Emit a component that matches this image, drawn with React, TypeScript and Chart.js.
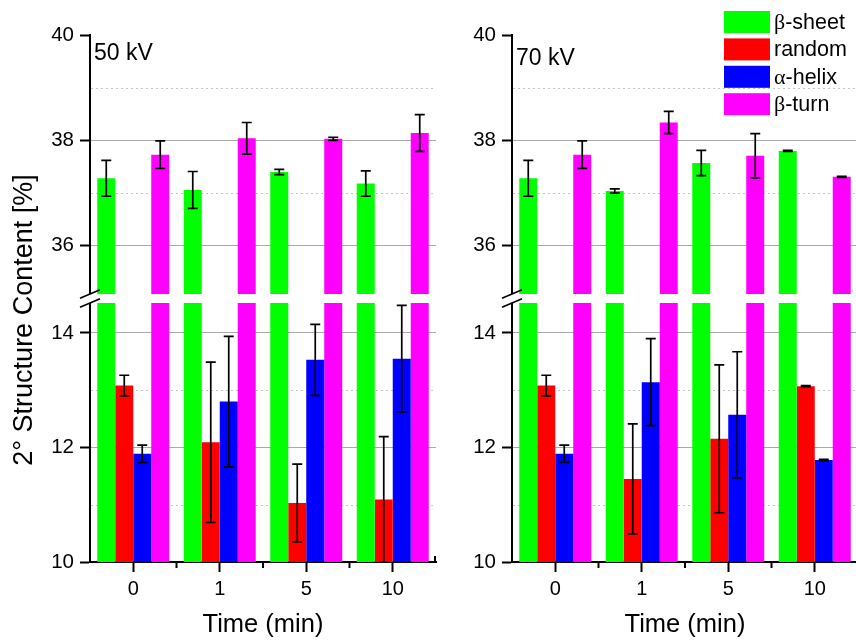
import React, { useEffect, useRef } from 'react';
import { Chart, registerables } from 'chart.js';

Chart.register(...registerables);

// ---------- data ----------
const times = ['0', '1', '5', '10'];
const seriesNames = ['β-sheet', 'random', 'α-helix', 'β-turn'];
const seriesColors = ['#00ff00', '#ff0000', '#0000ff', '#ff00ff'];

// 50 kV
const sheet50 = [37.28, 37.06, 37.4, 37.18];
const sheet50Err = [0.34, 0.35, 0.05, 0.24];
const random50 = [13.08, 12.09, 11.03, 11.09];
const random50Err = [0.18, 1.4, 0.68, 1.1];
const helix50 = [11.89, 12.8, 13.53, 13.55];
const helix50Err = [0.15, 1.14, 0.62, 0.93];
const turn50 = [37.73, 38.04, 38.03, 38.14];
const turn50Err = [0.26, 0.3, 0.03, 0.35];

// 70 kV
const sheet70 = [37.28, 37.04, 37.57, 37.8];
const sheet70Err = [0.34, 0.04, 0.24, 0.01];
const random70 = [13.08, 11.45, 12.15, 13.07];
const random70Err = [0.18, 0.96, 1.29, 0.01];
const helix70 = [11.89, 13.14, 12.57, 11.78];
const helix70Err = [0.15, 0.76, 1.1, 0.01];
const turn70 = [37.73, 38.34, 37.71, 37.31];
const turn70Err = [0.26, 0.21, 0.42, 0.01];

// axis segments (broken y axis)
const upperMin = 35;
const upperMax = 40;
const upperTickLabels = [36, 38, 40];
const upperSolidGrid = [36, 38];
const upperDottedGrid = [37, 39];
const lowerMin = 10;
const lowerMax = 14.6;
const lowerTickLabels = [10, 12, 14];
const lowerSolidGrid = [12, 14];
const lowerDottedGrid = [11, 13];

const yTitle = '2° Structure Content [%]';
const xTitle = 'Time (min)';

// ---------- styles ----------
const SANS = "'Liberation Sans', Arial, Helvetica, sans-serif";
const SERIF = "'Liberation Serif', 'Times New Roman', serif";
const GRID = '#a9a9a9';
const DOTTED = '#c4c4c4';
const BREAK_GAP = 9;

type PanelDef = {
  title: string;
  titleDy: number;
  values: number[][];
  errors: number[][];
  left: number;
  canvasWidth: number;
  axisWidth: number;
  rightPad: number;
  showYTitle: boolean;
  showLegend: boolean;
};

const decoPlugin = {
  id: 'deco',
  beforeDatasetsDraw(chart: any) {
    const ctx = chart.ctx;
    const ca = chart.chartArea;
    ctx.save();
    ctx.strokeStyle = DOTTED;
    ctx.lineWidth = 1;
    ctx.setLineDash([2, 3]);
    const lines: [string, number[]][] = [
      ['yHigh', upperDottedGrid],
      ['yLow', lowerDottedGrid],
    ];
    for (const [id, vals] of lines) {
      const s = chart.scales[id];
      for (const v of vals) {
        const y = Math.round(s.getPixelForValue(v)) + 0.5;
        ctx.beginPath();
        ctx.moveTo(ca.left + 1, y);
        ctx.lineTo(ca.right, y);
        ctx.stroke();
      }
    }
    ctx.restore();
  },
  beforeDatasetDraw(chart: any, args: any) {
    const ctx = chart.ctx;
    const meta = args.meta;
    const ys = chart.scales[meta.yAxisID];
    const ca = chart.chartArea;
    let top = ys.top;
    let bottom = ys.bottom;
    if (meta.yAxisID === 'yHigh') bottom -= BREAK_GAP / 2;
    else top += BREAK_GAP / 2;
    ctx.save();
    ctx.beginPath();
    ctx.rect(ca.left, top, ca.right - ca.left, bottom - top);
    ctx.clip();
  },
  afterDatasetDraw(chart: any, args: any) {
    const ctx = chart.ctx;
    const meta = args.meta;
    const ds = chart.data.datasets[args.index];
    const ys = chart.scales[meta.yAxisID];
    ctx.strokeStyle = '#000';
    ctx.lineWidth = 1.7;
    meta.data.forEach((bar: any, i: number) => {
      const v = ds.data[i];
      const e = ds.errors[i];
      const yT = ys.getPixelForValue(v + e);
      const yB = ys.getPixelForValue(v - e);
      const x = bar.x;
      ctx.beginPath();
      ctx.moveTo(x, yT);
      ctx.lineTo(x, yB);
      ctx.moveTo(x - 5, yT);
      ctx.lineTo(x + 5, yT);
      ctx.moveTo(x - 5, yB);
      ctx.lineTo(x + 5, yB);
      ctx.stroke();
    });
    ctx.restore();
  },
  afterDraw(chart: any, _args: any, opts: any) {
    const ctx = chart.ctx;
    const ca = chart.chartArea;
    const xs = chart.scales.x;
    const hi = chart.scales.yHigh;
    ctx.save();

    // minor x ticks between categories
    ctx.strokeStyle = '#000';
    ctx.lineWidth = 2;
    for (let i = 0; i < times.length - 1; i++) {
      const px = (xs.getPixelForTick(i) + xs.getPixelForTick(i + 1)) / 2;
      ctx.beginPath();
      ctx.moveTo(px, ca.bottom);
      ctx.lineTo(px, ca.bottom + 6);
      ctx.stroke();
    }
    ctx.beginPath();
    ctx.moveTo(ca.right - 1, ca.bottom);
    ctx.lineTo(ca.right - 1, ca.bottom - 6);
    ctx.stroke();

    // axis break
    const yb = hi.bottom;
    const x0 = ca.left;
    ctx.fillStyle = '#fff';
    ctx.fillRect(x0 - 3, yb - BREAK_GAP / 2, 6, BREAK_GAP);
    ctx.strokeStyle = '#000';
    ctx.lineWidth = 1.6;
    for (const off of [-BREAK_GAP / 2, BREAK_GAP / 2]) {
      ctx.beginPath();
      ctx.moveTo(x0 - 10, yb + off + 4.3);
      ctx.lineTo(x0 + 10, yb + off - 4.3);
      ctx.stroke();
    }

    // panel label
    ctx.fillStyle = '#000';
    ctx.font = `23px ${SANS}`;
    ctx.textAlign = 'left';
    ctx.textBaseline = 'alphabetic';
    ctx.fillText(opts.title, ca.left + 4, ca.top + opts.titleDy);

    // x title
    ctx.font = `25.5px ${SANS}`;
    ctx.textAlign = 'center';
    ctx.fillText(xTitle, (ca.left + ca.right) / 2, ca.bottom + 70);

    // y title
    if (opts.showYTitle) {
      ctx.save();
      ctx.translate(32, 320);
      ctx.rotate(-Math.PI / 2);
      ctx.font = `27px ${SANS}`;
      ctx.textAlign = 'center';
      ctx.textBaseline = 'alphabetic';
      ctx.fillText(yTitle, 0, 0);
      ctx.restore();
    }

    // legend
    if (opts.showLegend) {
      const bx = 284;
      const by = 11;
      const pitch = 27.4;
      seriesNames.forEach((name, i) => {
        const y = by + i * pitch;
        ctx.fillStyle = seriesColors[i];
        ctx.fillRect(bx, y, 46, 22);
        ctx.fillStyle = '#000';
        ctx.textAlign = 'left';
        ctx.textBaseline = 'middle';
        let tx = bx + 50;
        const first = name.charAt(0);
        if (/[α-ω]/.test(first)) {
          ctx.font = `22px ${SERIF}`;
          ctx.fillText(first, tx, y + 12);
          tx += ctx.measureText(first).width;
          ctx.font = `21.5px ${SANS}`;
          ctx.fillText(name.slice(1), tx, y + 12);
        } else {
          ctx.font = `21.5px ${SANS}`;
          ctx.fillText(name, tx, y + 12);
        }
      });
    }
    ctx.restore();
  },
};

function yScale(
  min: number,
  max: number,
  weight: number,
  labelled: number[],
  solid: number[],
  axisWidth: number
) {
  return {
    type: 'linear',
    position: 'left',
    stack: 'panel',
    stackWeight: 1,
    weight,
    min,
    max,
    ticks: {
      stepSize: 1,
      includeBounds: false,
      autoSkip: false,
      color: '#000',
      padding: 6,
      font: { family: SANS, size: 20.5 },
      callback: (v: number) => (labelled.includes(v) ? String(v) : ''),
    },
    grid: {
      color: (c: any) => (c.tick && solid.includes(c.tick.value) ? GRID : 'rgba(0,0,0,0)'),
      lineWidth: 1,
      tickLength: 10,
      tickWidth: 2,
      tickColor: (c: any) => (c.tick && labelled.includes(c.tick.value) ? '#000' : 'rgba(0,0,0,0)'),
    },
    border: { color: '#000', width: 2 },
    afterFit: (s: any) => {
      s.width = axisWidth;
    },
  };
}

function Panel({ def }: { def: PanelDef }) {
  const ref = useRef<HTMLCanvasElement | null>(null);
  useEffect(() => {
    if (!ref.current) return;
    const low = [0, 1, 2, 3].map((k) => ({
      label: seriesNames[k],
      data: def.values[k],
      errors: def.errors[k],
      backgroundColor: seriesColors[k],
      borderWidth: 0,
      yAxisID: 'yLow',
      stack: 's' + k,
    }));
    const high = [0, 3].map((k) => ({
      label: seriesNames[k],
      data: def.values[k],
      errors: def.errors[k],
      backgroundColor: seriesColors[k],
      borderWidth: 0,
      yAxisID: 'yHigh',
      stack: 's' + k,
    }));
    const chart = new Chart(ref.current, {
      type: 'bar',
      data: { labels: times, datasets: [...low, ...high] as any },
      plugins: [decoPlugin as any],
      options: {
        animation: false,
        responsive: false,
        maintainAspectRatio: false,
        layout: { padding: { top: 35, right: def.rightPad, left: 0, bottom: 0 } },
        datasets: { bar: { categoryPercentage: 0.832, barPercentage: 1.0 } },
        plugins: {
          legend: { display: false },
          tooltip: { enabled: false },
          deco: {
            title: def.title,
            titleDy: def.titleDy,
            showYTitle: def.showYTitle,
            showLegend: def.showLegend,
          },
        } as any,
        scales: {
          x: {
            type: 'category',
            offset: true,
            z: 1,
            grid: {
              offset: false,
              drawOnChartArea: false,
              tickLength: 10,
              tickWidth: 2,
              tickColor: '#000',
            },
            border: { color: '#000', width: 2 },
            ticks: { color: '#000', padding: 5, font: { family: SANS, size: 20 } },
            afterFit: (s: any) => {
              s.height = 81;
            },
          },
          yLow: yScale(lowerMin, lowerMax, 0, lowerTickLabels, lowerSolidGrid, def.axisWidth),
          yHigh: yScale(upperMin, upperMax, 1, upperTickLabels, upperSolidGrid, def.axisWidth),
        } as any,
      },
    });
    return () => chart.destroy();
  }, [def]);
  return (
    <canvas
      ref={ref}
      width={def.canvasWidth}
      height={643}
      style={{ position: 'absolute', left: def.left, top: 0, display: 'block' }}
    />
  );
}

const panel50: PanelDef = {
  title: '50 kV',
  titleDy: 25,
  values: [sheet50, random50, helix50, turn50],
  errors: [sheet50Err, random50Err, helix50Err, turn50Err],
  left: 0,
  canvasWidth: 440,
  axisWidth: 90,
  rightPad: 4,
  showYTitle: true,
  showLegend: false,
};

const panel70: PanelDef = {
  title: '70 kV',
  titleDy: 30,
  values: [sheet70, random70, helix70, turn70],
  errors: [sheet70Err, random70Err, helix70Err, turn70Err],
  left: 440,
  canvasWidth: 420,
  axisWidth: 72,
  rightPad: 2,
  showYTitle: false,
  showLegend: true,
};

export default function App() {
  return (
    <div
      style={{
        position: 'fixed',
        left: 0,
        top: 0,
        width: 856,
        height: 643,
        overflow: 'hidden',
        background: '#fff',
      }}
    >
      <Panel def={panel50} />
      <Panel def={panel70} />
    </div>
  );
}
